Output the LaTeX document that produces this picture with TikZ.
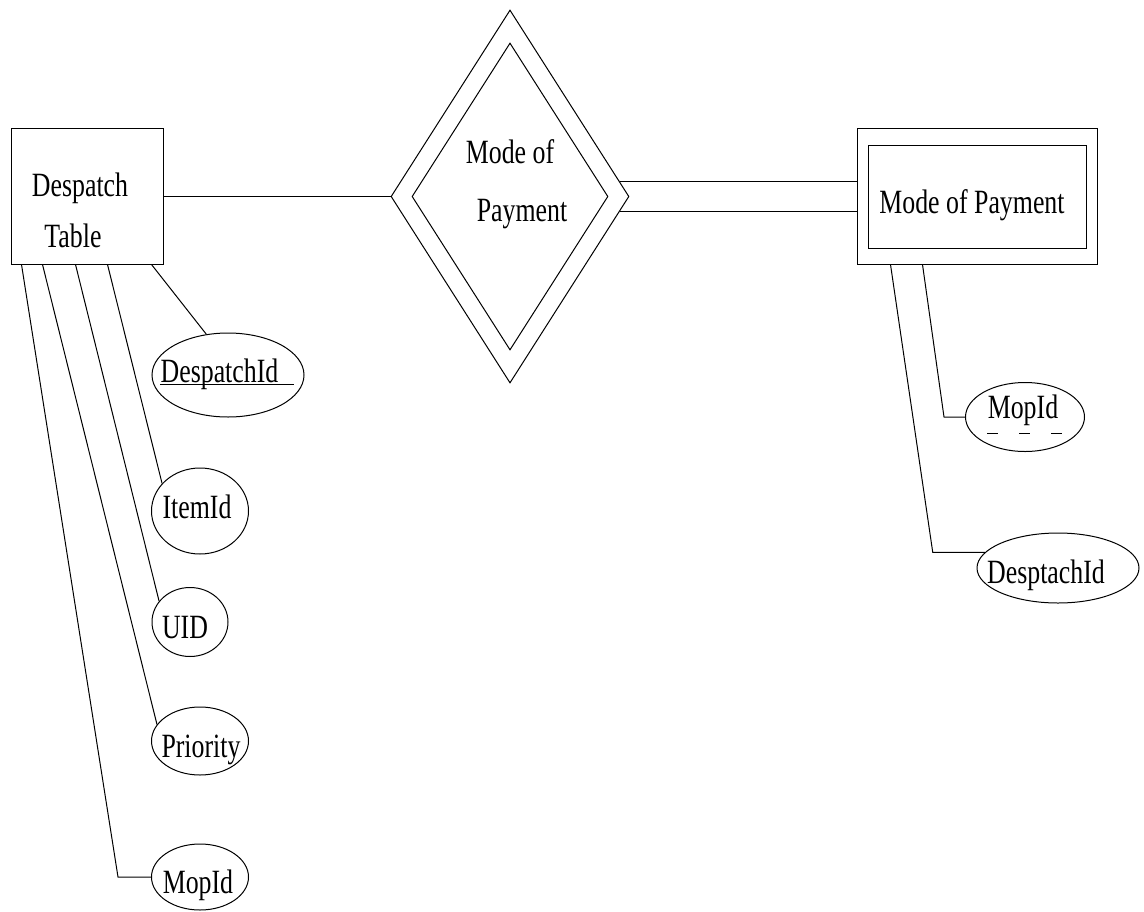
\documentclass[tikz,border=0pt]{standalone}
\usepackage{fontspec}
\setmainfont{Liberation Serif}[FakeStretch=0.76]
\usetikzlibrary{shapes.geometric,calc}
\begin{document}
\begin{tikzpicture}[x=1pt,y=-1pt, line width=1pt,
  ent/.style={draw, rectangle, inner sep=0pt},
  relshape/.style={draw, diamond, inner sep=0pt},
  attr/.style={draw, ellipse, inner sep=0pt},
  txt/.style={anchor=base, inner sep=0pt, font=\fontsize{34}{40}\selectfont}]
\useasboundingbox (0,0) rectangle (1144,911);

% entity: Despatch Table
\node[ent, minimum width=152pt, minimum height=136pt] (desp) at (87,196) {};
\node[txt] (despT1) at (80,196) {Despatch};
\node[txt] (despT2) at (73,247) {Table};

% weak relationship
\node[relshape, minimum width=238pt, minimum height=373pt] (rel) at (510,196.5) {};
\node[relshape, minimum width=196pt, minimum height=307pt] (relin) at (510,196.5) {};
\node[txt] (relT1) at (510,163) {Mode of};
\node[txt] (relT2) at (522,221) {Payment};

% weak entity
\node[ent, minimum width=240pt, minimum height=136pt] (mop) at (977,196) {};
\node[ent, minimum width=218pt, minimum height=103pt] (mopin) at (977,196.5) {};
\node[txt] (mopT) at (972,213) {Mode of Payment};

% attributes of Despatch Table
\node[attr, minimum width=152pt, minimum height=84pt] (aDid) at (228,375) {};
\node[txt] (aDidT) at (219.5,382) {DespatchId};
\node[attr, minimum width=97pt, minimum height=86pt] (aItem) at (200,511) {};
\node[txt] (aItemT) at (197,518) {ItemId};
\node[attr, minimum width=76pt, minimum height=69pt] (aUid) at (190,622) {};
\node[txt] (aUidT) at (185,638) {UID};
\node[attr, minimum width=97pt, minimum height=68pt] (aPri) at (200,741) {};
\node[txt] (aPriT) at (201,757) {Priority};
\node[attr, minimum width=97pt, minimum height=66pt] (aMop) at (200,877) {};
\node[txt] (aMopT) at (198,893) {MopId};

% attributes of Mode of Payment
\node[attr, minimum width=119pt, minimum height=69pt] (bMop) at (1025,417) {};
\node[txt] (bMopT) at (1023,418) {MopId};
\node[attr, minimum width=162pt, minimum height=70pt] (bDesp) at (1058,568) {};
\node[txt] (bDespT) at (1046,583) {DesptachId};

% key underlines
\draw ($(aDidT.base west)+(0,2)$) -- ($(aDidT.base east)+(15,2)$);
\draw[dash pattern=on 11pt off 21pt] ($(bMopT.base west)+(0,15)$) -- ($(bMopT.base east)+(6,15)$);

% relationship connectors
\draw (desp.east |- rel.west) -- (rel.west);
\draw (rel.8.35) -- (rel.8.35 -| mop.west);
\draw (rel.-8.35) -- (rel.-8.35 -| mop.west);

% Despatch Table attribute connectors
\draw ($(desp.south west)+(141,0)$) -- (aDid.118);
\draw ($(desp.south west)+(97,0)$) -- (aItem.144);
\draw ($(desp.south west)+(65,0)$) -- (aUid.146);
\draw ($(desp.south west)+(32,0)$) -- (aPri.159);
\coordinate (cMop) at ($(aMop.west)+(-33,0)$);
\draw ($(desp.south west)+(11,0)$) -- (cMop) -- (aMop.west);

% Mode of Payment attribute connectors
\coordinate (mA) at ($(mop.south west)+(66,0)$);
\coordinate (mB) at ($(mop.south west)+(34,0)$);
\coordinate (cB1) at ($(bMop.west)+(-21,0)$);
\draw (mA) -- (cB1) -- (bMop.west);
\coordinate (cB2h) at (bDesp.168);
\coordinate (cB2) at ($(cB2h)+(-52,0)$);
\draw (mB) -- (cB2) -- (bDesp.168);
\end{tikzpicture}
\end{document}
